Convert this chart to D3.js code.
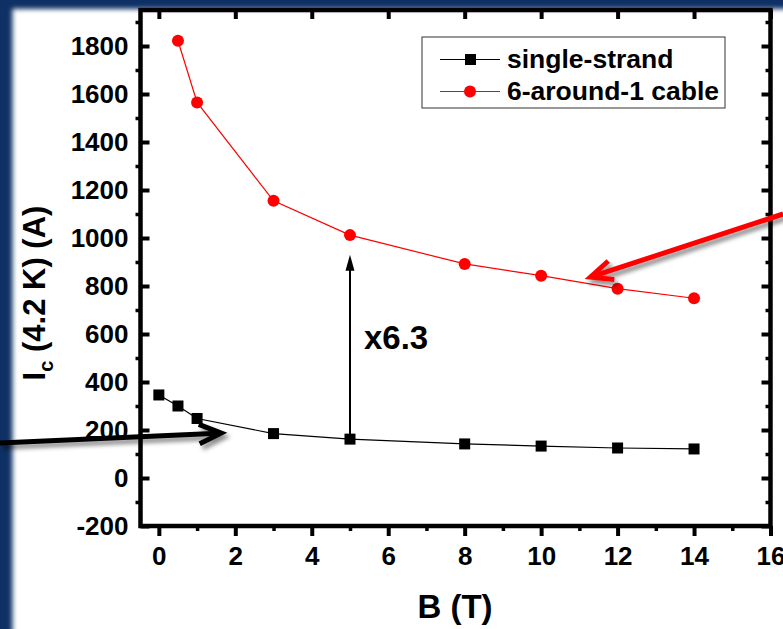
<!DOCTYPE html>
<html><head><meta charset="utf-8">
<script src="https://cdn.jsdelivr.net/npm/d3@7"></script>
<style>
body{margin:0;padding:0;overflow:hidden;background:#fff;}
text{font-family:"Liberation Sans",Arial,sans-serif;font-weight:bold;}
</style></head>
<body><svg id="c" width="783" height="629"></svg>
<script>
// ---- data ----
const fieldB = [0, 0.5, 1, 3, 5, 8, 10, 12, 14];
const singleStrand = [346, 300, 248, 185, 162, 142, 133, 125, 121];
const cableB = [0.5, 1, 3, 5, 8, 10, 12, 14];
const cable6around1 = [1822, 1565, 1155, 1012, 892, 843, 789, 749];
const seriesNames = ["single-strand", "6-around-1 cable"];
const xTicks = [0, 2, 4, 6, 8, 10, 12, 14, 16];
const yTicks = [-200, 0, 200, 400, 600, 800, 1000, 1200, 1400, 1600, 1800];
const xMinor = [1, 3, 5, 7, 9, 11, 13, 15];
const yMinor = [-100, 100, 300, 500, 700, 900, 1100, 1300, 1500, 1700, 1900];
const ratioLabel = "x6.3";
// annotation arrows in data coordinates: [tail, head]
const ratioArrow = [[5, 172], [5, 930]];
const blackArrow = [[-4.16, 146], [1.63, 187]];
const redArrow = [[16.33, 1100], [11.29, 837]];

const W = 783, H = 629;
const L = 140.5, R = 770.5, T = 10, B = 526;
const svg = d3.select("#c");
const defs = svg.append("defs");
const blur = defs.append("filter").attr("id","soft").attr("x","-10%").attr("y","-10%").attr("width","120%").attr("height","120%");
blur.append("feGaussianBlur").attr("stdDeviation", 2.6);
const sh = defs.append("filter").attr("id","shadow").attr("x","-20%").attr("y","-50%").attr("width","140%").attr("height","200%");
sh.append("feDropShadow").attr("dx",3).attr("dy",4).attr("stdDeviation",2.2).attr("flood-color","#000").attr("flood-opacity",0.45);

// background
svg.append("rect").attr("width",W).attr("height",H).attr("fill","#0e3064");
svg.append("rect").attr("x",12.5).attr("y",9).attr("width",W+40).attr("height",H+40).attr("fill","#fff").attr("filter","url(#soft)");

const x = d3.scaleLinear().domain([-0.48, 16]).range([L, R]);
const y = d3.scaleLinear().domain([-200, 1950]).range([B, T]);
const fmt = d => (d < 0 ? "-" + Math.abs(d) : String(d));

function styleAxis(g, width){
  g.selectAll("path.domain").remove();
  g.selectAll("line").attr("stroke","#000").attr("stroke-width",width);
  g.selectAll("text").attr("font-size",26).attr("fill","#000").attr("font-family",'"Liberation Sans",Arial,sans-serif').attr("font-weight","bold");
}
// left
svg.append("g").attr("transform",`translate(${L},0)`)
  .call(d3.axisLeft(y).tickValues(yTicks).tickSize(-9).tickPadding(12).tickSizeOuter(0).tickFormat(fmt))
  .call(g=>styleAxis(g,4));
svg.append("g").attr("transform",`translate(${L},0)`)
  .call(d3.axisLeft(y).tickValues(yMinor).tickSize(5).tickFormat(""))
  .call(g=>styleAxis(g,3.5));
// right
svg.append("g").attr("transform",`translate(${R},0)`)
  .call(d3.axisRight(y).tickValues(yTicks).tickSize(-9).tickFormat(""))
  .call(g=>styleAxis(g,4));
svg.append("g").attr("transform",`translate(${R},0)`)
  .call(d3.axisRight(y).tickValues(yMinor).tickSize(-5).tickFormat(""))
  .call(g=>styleAxis(g,3.5));
// bottom
svg.append("g").attr("transform",`translate(0,${B})`)
  .call(d3.axisBottom(x).tickValues(xTicks).tickSize(10).tickPadding(11).tickFormat(fmt))
  .call(g=>styleAxis(g,4));
svg.append("g").attr("transform",`translate(0,${B})`)
  .call(d3.axisBottom(x).tickValues(xMinor).tickSize(5).tickFormat(""))
  .call(g=>styleAxis(g,3.5));
// top
svg.append("g").attr("transform",`translate(0,${T})`)
  .call(d3.axisTop(x).tickValues(xTicks).tickSize(-9).tickFormat(""))
  .call(g=>styleAxis(g,4));
// frame
svg.append("rect").attr("x",L).attr("y",T).attr("width",R-L).attr("height",B-T)
  .attr("fill","none").attr("stroke","#000").attr("stroke-width",4.5);

// series
const line = d3.line().x(d=>x(d[0])).y(d=>y(d[1]));
const s1 = fieldB.map((b,i)=>[b, singleStrand[i]]);
const s2 = cableB.map((b,i)=>[b, cable6around1[i]]);
svg.append("path").attr("d",line(s1)).attr("fill","none").attr("stroke","#000").attr("stroke-width",1.2);
svg.append("path").attr("d",line(s2)).attr("fill","none").attr("stroke","#ff0000").attr("stroke-width",1.2);
svg.selectAll("rect.sq").data(s1).join("rect").attr("class","sq")
  .attr("x",d=>x(d[0])-5.5).attr("y",d=>y(d[1])-5.5).attr("width",11).attr("height",11).attr("fill","#000");
svg.selectAll("circle.ci").data(s2).join("circle").attr("class","ci")
  .attr("cx",d=>x(d[0])).attr("cy",d=>y(d[1])).attr("r",6).attr("fill","#ff0000");

// ratio arrow
const ax = x(ratioArrow[0][0]), ay0 = y(ratioArrow[0][1]), ay1 = y(ratioArrow[1][1]);
svg.append("line").attr("x1",ax).attr("x2",ax).attr("y1",ay0).attr("y2",ay1+12).attr("stroke","#000").attr("stroke-width",2);
svg.append("path").attr("d",`M${ax},${ay1} L${ax-4.5},${ay1+16} L${ax+4.5},${ay1+16} Z`).attr("fill","#000");
svg.append("text").attr("x",ax+14).attr("y",349).attr("font-size",33).text(ratioLabel);

// annotation arrows with chevron heads
function chevArrow(p, color){
  const x0=x(p[0][0]), y0=y(p[0][1]), x1=x(p[1][0]), y1=y(p[1][1]);
  const ang = Math.atan2(y0-y1, x0-x1), a=24*Math.PI/180, len=24;
  const g = svg.append("g").attr("filter","url(#shadow)");
  g.append("line").attr("x1",x0).attr("y1",y0).attr("x2",x1-3*Math.cos(ang+Math.PI)).attr("y2",y1-3*Math.sin(ang+Math.PI))
    .attr("stroke",color).attr("stroke-width",5);
  g.append("path").attr("d",`M${x1+len*Math.cos(ang+a)},${y1+len*Math.sin(ang+a)} L${x1},${y1} L${x1+len*Math.cos(ang-a)},${y1+len*Math.sin(ang-a)}`)
    .attr("fill","none").attr("stroke",color).attr("stroke-width",5).attr("stroke-linejoin","miter").attr("stroke-linecap","butt");
}
chevArrow(blackArrow, "#000");
chevArrow(redArrow, "#ff0000");

// legend
const lg = svg.append("g");
lg.append("rect").attr("x",422).attr("y",37).attr("width",303).attr("height",71).attr("fill","#fff").attr("stroke","#333").attr("stroke-width",1);
[["#000","sq",59.5],["#ff0000","ci",91.5]].forEach((e,i)=>{
  lg.append("line").attr("x1",440).attr("x2",500).attr("y1",e[2]).attr("y2",e[2]).attr("stroke",e[0]).attr("stroke-width",1.2);
  if(e[1]==="sq") lg.append("rect").attr("x",465).attr("y",e[2]-5.5).attr("width",11).attr("height",11).attr("fill",e[0]);
  else lg.append("circle").attr("cx",470).attr("cy",e[2]).attr("r",6).attr("fill",e[0]);
  lg.append("text").attr("x",507).attr("y",e[2]+8.5).attr("font-size",26.5).text(seriesNames[i]);
});

// axis titles
svg.append("text").attr("x",455).attr("y",618).attr("text-anchor","middle").attr("font-size",33).text("B (T)");
const yt = svg.append("text").attr("transform","translate(45,293) rotate(-90)").attr("text-anchor","middle").attr("font-size",31);
yt.append("tspan").text("I");
yt.append("tspan").attr("font-size",20).attr("dy",8).text("c");
yt.append("tspan").attr("dy",-8).text(" (4.2 K) (A)");
</script></body></html>
